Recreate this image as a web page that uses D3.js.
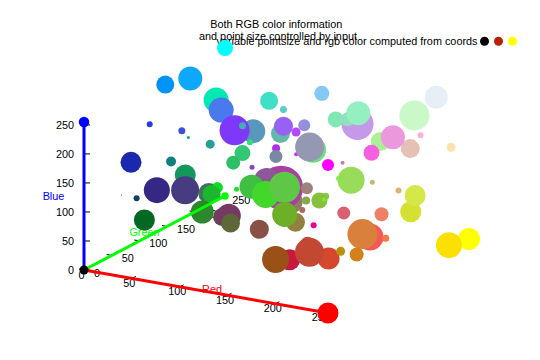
<!DOCTYPE html>
<html>
<head>
<meta charset="utf-8">
<script src="https://cdn.jsdelivr.net/npm/d3@7"></script>
<style>
    html, body { margin: 0; padding: 0; background: #fff; }
    text { font-family: "Liberation Sans", Arial, sans-serif; font-size: 10.85px; }
</style>
</head>
<body>
<svg id="chart" width="540" height="360"></svg>
<script>

// Input columns, in plotting order: red, green, blue, pointsize
const red = [
    4, 74, 0, 14, 0, 89, 125, 64, 34, 56, 20, 40, 44, 50, 45, 26, 17, 18, 134, 53,
    71, 18, 16, 3, 64, 10, 27, 45, 105, 119, 93, 30, 142, 169, 140, 159, 64, 65, 94, 147,
    108, 137, 168, 135, 137, 135, 112, 240, 216, 237, 212, 212, 227, 195, 152, 132, 248, 217, 246, 211,
    214, 185, 201, 192, 194, 154, 255, 252, 64, 90, 133, 230, 202, 129, 198, 146, 148, 171, 245, 230,
    235, 250, 253, 255, 198, 99, 153, 147, 180, 110, 194, 173, 122, 148
];
const green = [
    232, 120, 147, 168, 255, 152, 56, 176, 60, 80, 154, 159, 224, 200, 192, 40, 128, 152, 72, 40,
    60, 64, 40, 104, 115, 224, 184, 136, 68, 56, 104, 224, 128, 64, 88, 128, 192, 216, 200, 128,
    176, 80, 104, 168, 200, 192, 240, 0, 96, 128, 224, 232, 176, 184, 220, 232, 88, 128, 120, 128,
    72, 144, 24, 72, 72, 80, 255, 224, 224, 205, 200, 239, 248, 232, 152, 224, 240, 240, 96, 192,
    152, 176, 226, 0, 125, 184, 96, 144, 72, 224, 48, 48, 136, 152
];
const blue = [
    178, 237, 246, 250, 255, 189, 249, 179, 231, 216, 157, 149, 121, 116, 102, 173, 128, 93, 180, 133,
    128, 97, 114, 35, 93, 33, 47, 45, 88, 100, 56, 36, 95, 159, 151, 123, 66, 41, 70, 61,
    39, 70, 100, 75, 67, 63, 34, 147, 113, 101, 50, 74, 115, 116, 89, 80, 85, 61, 66, 24,
    46, 14, 64, 65, 51, 23, 0, 4, 198, 200, 243, 245, 201, 181, 233, 190, 193, 151, 225, 180,
    221, 217, 172, 255, 180, 172, 244, 220, 254, 127, 232, 236, 163, 179
];
const pointSize = [
    2.5, 2.5, 1.8, 2.4, 1.6, 2.4, 3.0, 0.7, 0.6, 0.7, 0.3, 0.9, 0.6, 1.6, 1.4, 2.1, 1.0, 2.1, 0.5, 2.6,
    2.8, 0.6, 0.1, 2.1, 2.1, 1.1, 1.8, 2.3, 1.8, 2.4, 1.9, 0.5, 2.4, 4.4, 2.5, 1.2, 2.4, 2.7, 3.1, 1.9,
    2.5, 1.9, 0.6, 0.8, 0.7, 1.6, 0.4, 0.6, 1.3, 1.4, 2.1, 2.1, 0.6, 0.5, 2.7, 0.5, 2.7, 3.0, 0.7, 1.4,
    2.2, 0.9, 2.1, 1.4, 2.9, 2.7, 2.2, 2.6, 1.8, 0.7, 1.5, 2.3, 3.0, 1.6, 3.2, 1.4, 2.4, 1.9, 1.6, 1.9,
    2.4, 0.6, 0.9, 1.2, 0.4, 1.9, 1.9, 1.2, 0.9, 2.6, 0.4, 0.8, 1.3, 2.9
];

// Points at the ends of the axes, drawn last
const axisEndNames = ["origin", "Red", "Green", "Blue"];
const axisEndRed = [0, 255, 0, 0];
const axisEndGreen = [0, 0, 255, 0];
const axisEndBlue = [0, 0, 0, 255];
const axisEndSize = [0.9, 2.1, 0.75, 1.05];

const axisTicks = [0, 50, 100, 150, 200, 250];
const titleLines = ["Both RGB color information", "and point size controlled by input"];
const keyLabel = "variable pointsize and rgb color computed from coords";
const keyColors = ["#000000", "#b82000", "#ffff00"];

// 3D view: each input axis adds its own screen offset to the origin
const originX = 84, originY = 270;
const redToX = d3.scaleLinear().domain([0, 255]).range([0, 244]);
const redToY = d3.scaleLinear().domain([0, 255]).range([0, 43]);
const greenToX = d3.scaleLinear().domain([0, 255]).range([0, 141]);
const greenToY = d3.scaleLinear().domain([0, 255]).range([0, -74]);
const blueToY = d3.scaleLinear().domain([0, 255]).range([0, -148]);
const radius = d3.scaleLinear().domain([0, 1]).range([0, 5]);

const projectX = (r, g) => originX + redToX(r) + greenToX(g);
const projectY = (r, g, b) => originY + redToY(r) + greenToY(g) + blueToY(b);

const svg = d3.select("#chart");

// Titles
svg.selectAll(".title")
    .data(titleLines)
    .enter()
    .append("text")
    .attr("class", "title")
    .attr("x", (d, i) => i ? 278 : 276.3)
    .attr("y", (d, i) => 28 + i * 12)
    .attr("text-anchor", "middle")
    .text(d => d);

// Key
svg.append("text")
    .attr("x", 477.5)
    .attr("y", 45)
    .attr("text-anchor", "end")
    .text(keyLabel);
svg.selectAll(".key")
    .data(keyColors)
    .enter()
    .append("circle")
    .attr("class", "key")
    .attr("cx", (d, i) => 484.5 + i * 14)
    .attr("cy", 41.3)
    .attr("r", radius(0.9))
    .attr("fill", d => d);

// Tick marks
function drawTicks(cls, xOf, yOf, dx, dy) {
    svg.selectAll(`.${cls}`)
        .data(axisTicks)
        .enter()
        .append("line")
        .attr("class", cls)
        .attr("x1", xOf)
        .attr("y1", yOf)
        .attr("x2", d => xOf(d) + dx)
        .attr("y2", d => yOf(d) + dy)
        .attr("stroke", "#000")
        .attr("stroke-width", 1);
}
drawTicks("tick-red", d => projectX(d, 0), d => projectY(d, 0, 0), 4, -2);
drawTicks("tick-green", d => projectX(0, d), d => projectY(0, d, 0), -5, -1);
drawTicks("tick-blue", () => originX, d => projectY(0, 0, d), 6, 0);

// Tick labels
function drawTickLabels(cls, anchor, xOf, yOf) {
    svg.selectAll(`.${cls}`)
        .data(axisTicks)
        .enter()
        .append("text")
        .attr("class", cls)
        .attr("text-anchor", anchor)
        .attr("x", xOf)
        .attr("y", yOf)
        .text(d => d);
}
drawTickLabels("label-red", "middle", d => projectX(d, 0) - 2.5, d => projectY(d, 0, 0) + 8.5);
drawTickLabels("label-green", "start", d => projectX(0, d) + 10, d => projectY(0, d, 0) + 6.5);
drawTickLabels("label-blue", "end", () => originX - 10, d => projectY(0, 0, d) + 4);

// Axis names
svg.append("text").attr("x", 212).attr("y", 293).attr("text-anchor", "middle").attr("fill", "#ff0000").text("Red");
svg.append("text").attr("x", 144.5).attr("y", 236).attr("text-anchor", "middle").attr("fill", "#00ff00").text("Green");
svg.append("text").attr("x", 53.5).attr("y", 200).attr("text-anchor", "middle").attr("fill", "#0000ff").text("Blue");

// Points
svg.selectAll(".point")
    .data(d3.range(red.length))
    .enter()
    .append("circle")
    .attr("class", "point")
    .attr("cx", i => projectX(red[i], green[i]))
    .attr("cy", i => projectY(red[i], green[i], blue[i]))
    .attr("r", i => radius(pointSize[i]))
    .attr("fill", i => d3.rgb(red[i], green[i], blue[i]));

// Axis lines and their end points
svg.selectAll(".axis-line")
    .data([1, 2, 3])
    .enter()
    .append("line")
    .attr("class", "axis-line")
    .attr("x1", originX)
    .attr("y1", originY)
    .attr("x2", i => projectX(axisEndRed[i], axisEndGreen[i]))
    .attr("y2", i => projectY(axisEndRed[i], axisEndGreen[i], axisEndBlue[i]))
    .attr("stroke", i => d3.rgb(axisEndRed[i], axisEndGreen[i], axisEndBlue[i]))
    .attr("stroke-width", 3);

svg.selectAll(".axis-end")
    .data(d3.range(axisEndNames.length))
    .enter()
    .append("circle")
    .attr("class", "axis-end")
    .attr("cx", i => projectX(axisEndRed[i], axisEndGreen[i]))
    .attr("cy", i => projectY(axisEndRed[i], axisEndGreen[i], axisEndBlue[i]))
    .attr("r", i => radius(axisEndSize[i]))
    .attr("fill", i => d3.rgb(axisEndRed[i], axisEndGreen[i], axisEndBlue[i]));

</script>
</body>
</html>
